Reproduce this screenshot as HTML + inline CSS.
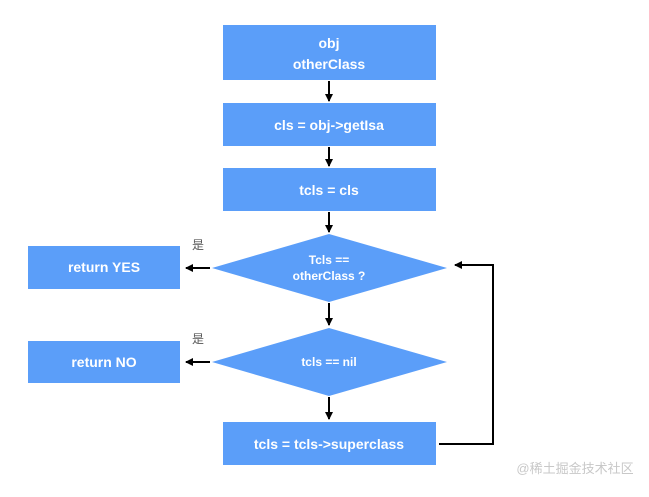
<!DOCTYPE html>
<html><head><style>
body{margin:0;background:#fff;width:649px;height:492px;overflow:hidden}
svg text{font-family:"Liberation Sans","Noto Sans CJK SC",sans-serif;font-weight:bold;fill:#fff;text-anchor:middle}
</style></head><body>
<svg width="649" height="492" viewBox="0 0 649 492" xmlns="http://www.w3.org/2000/svg">
<defs><marker id="a" markerWidth="8" markerHeight="8" refX="7" refY="4" orient="auto" markerUnits="userSpaceOnUse"><path d="M0,0 L8,4 L0,8 Z" fill="#000"/></marker></defs>
<g fill="#5b9ef9">
<rect x="223" y="25" width="213" height="55"/>
<rect x="223" y="103" width="213" height="43"/>
<rect x="223" y="168" width="213" height="43"/>
<polygon points="212,268 329,234 447,268 329,302"/>
<polygon points="212,362 329,328 447,362 329,396"/>
<rect x="223" y="422" width="213" height="43"/>
<rect x="28" y="246" width="152" height="43"/>
<rect x="28" y="341" width="152" height="42"/>
</g>
<g stroke="#000" stroke-width="2" fill="none">
<line x1="329" y1="81" x2="329" y2="101" marker-end="url(#a)"/>
<line x1="329" y1="147" x2="329" y2="166" marker-end="url(#a)"/>
<line x1="329" y1="212" x2="329" y2="232" marker-end="url(#a)"/>
<line x1="329" y1="303" x2="329" y2="325" marker-end="url(#a)"/>
<line x1="329" y1="397" x2="329" y2="419" marker-end="url(#a)"/>
<line x1="210" y1="268" x2="186" y2="268" marker-end="url(#a)"/>
<line x1="210" y1="362" x2="186" y2="362" marker-end="url(#a)"/>
<polyline points="439,444 493,444 493,265 455,265" marker-end="url(#a)"/>
</g>
<text x="329" y="48" font-size="14">obj</text>
<text x="329" y="69" font-size="14">otherClass</text>
<text x="329" y="130" font-size="14">cls = obj-&gt;getIsa</text>
<text x="329" y="195" font-size="14">tcls = cls</text>
<text x="329" y="264" font-size="12">Tcls ==</text>
<text x="329" y="280" font-size="12">otherClass ?</text>
<text x="329" y="366" font-size="12">tcls == nil</text>
<text x="329" y="449" font-size="14">tcls = tcls-&gt;superclass</text>
<text x="104" y="272" font-size="14">return YES</text>
<text x="104" y="367" font-size="14">return NO</text>
<text x="198" y="249" font-size="12" style="fill:#555;font-weight:normal">是</text>
<text x="198" y="343" font-size="12" style="fill:#555;font-weight:normal">是</text>
<text x="575" y="473" font-size="13" style="fill:#c8c8c8;font-weight:normal">@稀土掘金技术社区</text>
</svg>
</body></html>
